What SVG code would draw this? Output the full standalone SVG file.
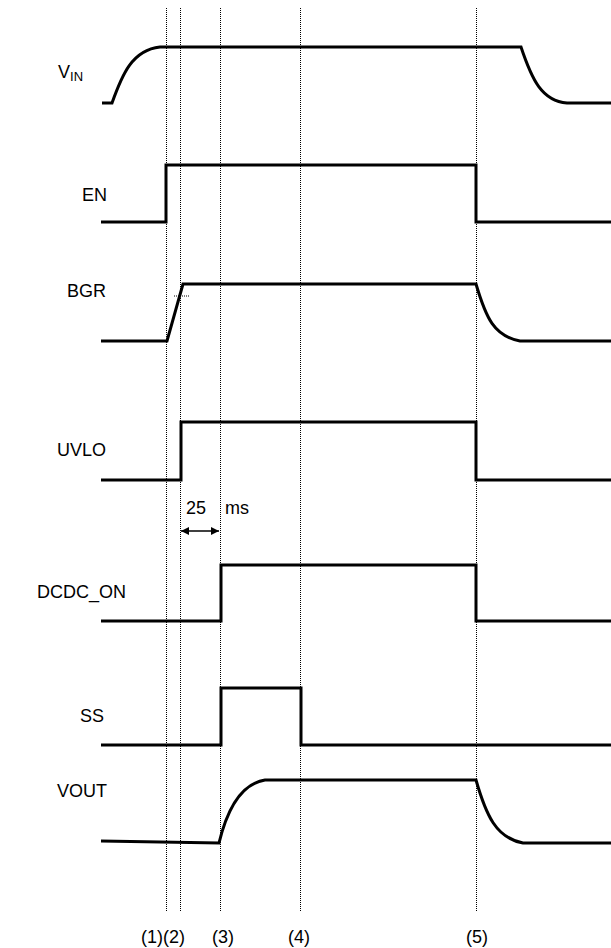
<svg xmlns="http://www.w3.org/2000/svg" width="611" height="948" viewBox="0 0 611 948">
<style>
.lbl{font-family:"Liberation Sans",Arial,sans-serif;font-size:18px;fill:#000}
.sig{fill:none;stroke:#000;stroke-width:3;stroke-linejoin:miter}
.grid{stroke:#000;stroke-width:1;stroke-dasharray:1,1;fill:none}
</style>
<defs>
<marker id="ah" viewBox="0 0 10 10" refX="10" refY="5" markerWidth="10" markerHeight="8" markerUnits="userSpaceOnUse" orient="auto-start-reverse">
<path d="M0,0 L10,5 L0,10 z" fill="#000"/>
</marker>
</defs>
<rect width="611" height="948" fill="#fff"/>
<g id="grid">
<line class="grid" x1="166.5" y1="8" x2="166.5" y2="912"/>
<line class="grid" x1="180.5" y1="8" x2="180.5" y2="912"/>
<line class="grid" x1="220.5" y1="8" x2="220.5" y2="912"/>
<line class="grid" x1="300.5" y1="8" x2="300.5" y2="912"/>
<line class="grid" x1="476.5" y1="8" x2="476.5" y2="912"/>
</g>
<g id="vin">
<text class="lbl" x="58" y="78" font-size="21">V<tspan font-size="13" dy="3">IN</tspan></text>
<path class="sig" d="M102,103 H112 C122,75 132,50 160,47 H521 C532,80 542,101 567,103 H611"/>
</g>
<g id="en">
<text class="lbl" x="82" y="201">EN</text>
<path class="sig" d="M101,222 H166 V165 H476 V222 H611"/>
</g>
<g id="bgr">
<text class="lbl" x="67" y="297">BGR</text>
<path class="sig" d="M101,341 H167 L183,284 H476 C486,318 494,336 520,341 H611"/>
<line class="grid" x1="174" y1="296" x2="190" y2="296"/>
</g>
<g id="uvlo">
<text class="lbl" x="57" y="456">UVLO</text>
<path class="sig" d="M101,480 H181 V422 H476 V480 H611"/>
</g>
<g id="delay">
<text class="lbl" x="186" y="514" font-size="19">25</text>
<text class="lbl" x="225" y="514" font-size="19">ms</text>
<line x1="181" y1="531" x2="219" y2="531" stroke="#000" stroke-width="1.5" marker-start="url(#ah)" marker-end="url(#ah)"/>
</g>
<g id="dcdc_on">
<text class="lbl" x="37" y="598">DCDC_ON</text>
<path class="sig" d="M101,621 H221 V565 H476 V621 H611"/>
</g>
<g id="ss">
<text class="lbl" x="80" y="722">SS</text>
<path class="sig" d="M101,745 H221 V688 H301 V745 H611"/>
</g>
<g id="vout">
<text class="lbl" x="57" y="797">VOUT</text>
<path class="sig" d="M101,841 L219,843 C227,810 240,784 265,780 H476 C486,815 496,838 523,843 H611"/>
</g>
<g id="markers">
<text class="lbl" x="141" y="943">(1)(2)</text>
<text class="lbl" x="212" y="943">(3)</text>
<text class="lbl" x="288" y="943">(4)</text>
<text class="lbl" x="466" y="943">(5)</text>
</g>
</svg>
